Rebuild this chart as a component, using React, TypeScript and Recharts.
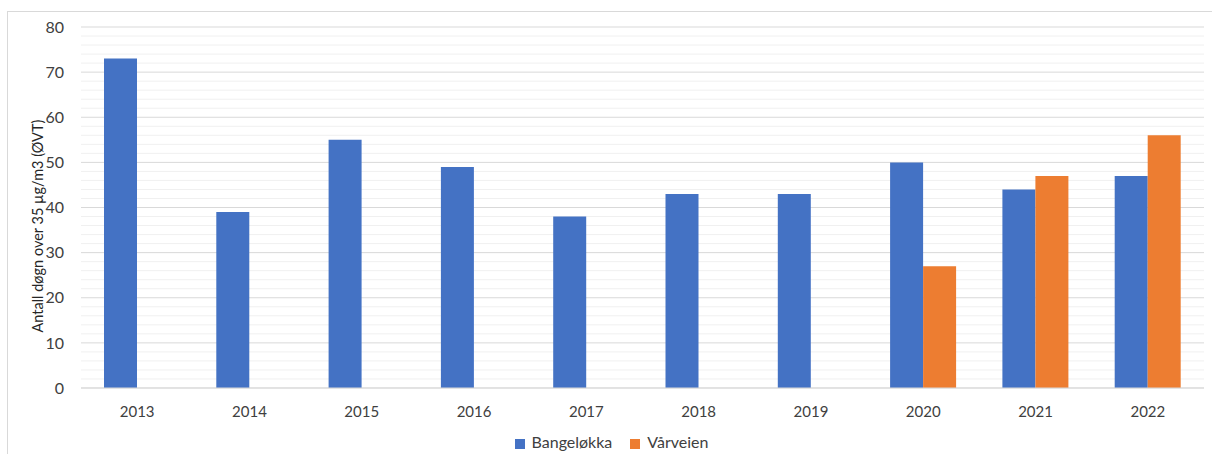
import React from 'react';
import { BarChart, Bar, XAxis, YAxis, CartesianGrid, Legend } from 'recharts';

// Years on the x axis
const years: string[] = ['2013', '2014', '2015', '2016', '2017', '2018', '2019', '2020', '2021', '2022'];

// Days over 35 µg/m3 per station
const bangelokka: number[] = [73, 39, 55, 49, 38, 43, 43, 50, 44, 47];
const varveien: (number | null)[] = [null, null, null, null, null, null, null, 27, 47, 56];

const majorTicks: number[] = [0, 10, 20, 30, 40, 50, 60, 70, 80];
const minorTicks: number[] = [
  2, 4, 6, 8, 12, 14, 16, 18, 22, 24, 26, 28, 32, 34, 36, 38,
  42, 44, 46, 48, 52, 54, 56, 58, 62, 64, 66, 68, 72, 74, 76, 78,
];

const data = years.map((year, i) => ({
  year,
  Bangeløkka: bangelokka[i],
  Vårveien: varveien[i],
}));

const FONT = 'Lato, "Open Sans", sans-serif';

// minor grid lines, placed through the y axis scale
const minorLines = (props: any) => {
  const { yAxis, offset } = props;
  if (yAxis && typeof yAxis.scale === 'function') {
    return minorTicks.map((v) => yAxis.scale(v));
  }
  return minorTicks.map((v) => offset.top + offset.height * (1 - v / 80));
};

const App = () => {
  return (
    <div style={{ position: 'absolute', left: 0, top: 0, width: 1212, height: 454, overflow: 'hidden', background: '#fff' }}>
      <div
        style={{
          position: 'absolute',
          left: 7,
          top: 11,
          width: 1220,
          height: 460,
          border: '1px solid #d9d9d9',
        }}
      />
      <div style={{ position: 'absolute', left: 0, top: 0 }}>
        <BarChart
          width={1212}
          height={454}
          data={data}
          margin={{ top: 27, right: 8, left: 21, bottom: 0 }}
          barGap={0}
          barSize={33}
          style={{ fontFamily: FONT }}
        >
          <CartesianGrid vertical={false} stroke="#f0f0f0" horizontalCoordinatesGenerator={minorLines} />
          <CartesianGrid vertical={false} stroke="#d9d9d9" />
          <XAxis
            dataKey="year"
            height={44}
            tickLine={false}
            axisLine={{ stroke: '#d9d9d9' }}
            tickMargin={12}
            tick={{ fill: '#404040', fontSize: 15 }}
          />
          <YAxis
            width={60}
            domain={[0, 80]}
            ticks={majorTicks}
            interval={0}
            axisLine={false}
            tickLine={false}
            tickMargin={11}
            tick={{ fill: '#404040', fontSize: 16 }}
            label={{
              value: 'Antall døgn over 35 µg/m3 (ØVT)',
              angle: -90,
              position: 'insideLeft',
              dx: 12,
              dy: 125,
              style: { fill: '#262626', fontSize: 14.5 },
            }}
          />
          <Legend
            verticalAlign="bottom"
            height={22}
            iconType="square"
            iconSize={10}
            wrapperStyle={{ fontSize: 16, color: '#404040', paddingLeft: 8 }}
            formatter={(value: string) => (
              <span style={{ color: '#404040', marginLeft: 3, marginRight: 8 }}>{value}</span>
            )}
          />
          <Bar dataKey="Bangeløkka" fill="#4472C4" isAnimationActive={false} />
          <Bar dataKey="Vårveien" fill="#ED7D31" isAnimationActive={false} />
        </BarChart>
      </div>
    </div>
  );
};

export default App;
